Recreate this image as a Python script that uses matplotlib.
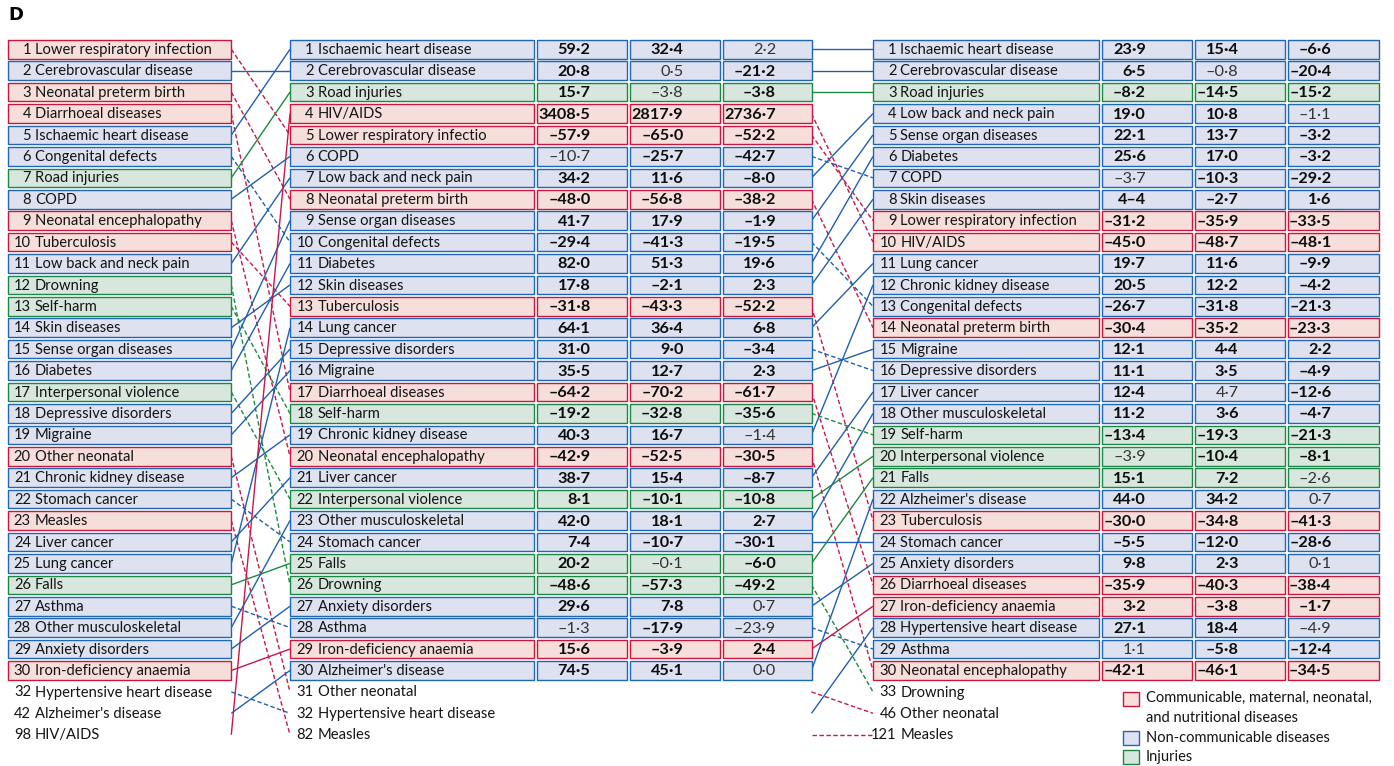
import matplotlib
matplotlib.use("Agg")
import matplotlib.pyplot as plt
from matplotlib.patches import Rectangle
from matplotlib import font_manager

avail = {f.name for f in font_manager.fontManager.ttflist}
if "Liberation Sans Narrow" in avail:
    FONT = ["Liberation Sans Narrow", "DejaVu Sans"]
    FS = 11.4
else:
    FONT = ["Lato", "DejaVu Sans"]
    FS = 10.6
plt.rcParams["font.family"] = FONT

# ---------------- data ----------------
cause_category = {
    "Lower respiratory infection": "C", "Cerebrovascular disease": "N",
    "Neonatal preterm birth": "C", "Diarrhoeal diseases": "C",
    "Ischaemic heart disease": "N", "Congenital defects": "N",
    "Road injuries": "I", "COPD": "N", "Neonatal encephalopathy": "C",
    "Tuberculosis": "C", "Low back and neck pain": "N", "Drowning": "I",
    "Self-harm": "I", "Skin diseases": "N", "Sense organ diseases": "N",
    "Diabetes": "N", "Interpersonal violence": "I", "Depressive disorders": "N",
    "Migraine": "N", "Other neonatal": "C", "Chronic kidney disease": "N",
    "Stomach cancer": "N", "Measles": "C", "Liver cancer": "N",
    "Lung cancer": "N", "Falls": "I", "Asthma": "N",
    "Other musculoskeletal": "N", "Anxiety disorders": "N",
    "Iron-deficiency anaemia": "C", "Hypertensive heart disease": "N",
    "Alzheimer's disease": "N", "HIV/AIDS": "C",
}
alias = {"Lower respiratory infectio": "Lower respiratory infection"}

col1_causes = [
    "Lower respiratory infection", "Cerebrovascular disease", "Neonatal preterm birth",
    "Diarrhoeal diseases", "Ischaemic heart disease", "Congenital defects",
    "Road injuries", "COPD", "Neonatal encephalopathy", "Tuberculosis",
    "Low back and neck pain", "Drowning", "Self-harm", "Skin diseases",
    "Sense organ diseases", "Diabetes", "Interpersonal violence",
    "Depressive disorders", "Migraine", "Other neonatal", "Chronic kidney disease",
    "Stomach cancer", "Measles", "Liver cancer", "Lung cancer", "Falls", "Asthma",
    "Other musculoskeletal", "Anxiety disorders", "Iron-deficiency anaemia",
    "Hypertensive heart disease", "Alzheimer's disease", "HIV/AIDS",
]
col1_ranks = list(range(1, 31)) + [32, 42, 98]

col2_causes = [
    "Ischaemic heart disease", "Cerebrovascular disease", "Road injuries", "HIV/AIDS",
    "Lower respiratory infectio", "COPD", "Low back and neck pain",
    "Neonatal preterm birth", "Sense organ diseases", "Congenital defects",
    "Diabetes", "Skin diseases", "Tuberculosis", "Lung cancer",
    "Depressive disorders", "Migraine", "Diarrhoeal diseases", "Self-harm",
    "Chronic kidney disease", "Neonatal encephalopathy", "Liver cancer",
    "Interpersonal violence", "Other musculoskeletal", "Stomach cancer", "Falls",
    "Drowning", "Anxiety disorders", "Asthma", "Iron-deficiency anaemia",
    "Alzheimer's disease",
    "Other neonatal", "Hypertensive heart disease", "Measles",
]
col2_ranks = list(range(1, 31)) + [31, 32, 82]
col2_v1 = ["59·2", "20·8", "15·7", "3408·5", "–57·9", "–10·7", "34·2", "–48·0", "41·7", "–29·4",
           "82·0", "17·8", "–31·8", "64·1", "31·0", "35·5", "–64·2", "–19·2", "40·3", "–42·9",
           "38·7", "8·1", "42·0", "7·4", "20·2", "–48·6", "29·6", "–1·3", "15·6", "74·5"]
col2_v2 = ["32·4", "0·5", "–3·8", "2817·9", "–65·0", "–25·7", "11·6", "–56·8", "17·9", "–41·3",
           "51·3", "–2·1", "–43·3", "36·4", "9·0", "12·7", "–70·2", "–32·8", "16·7", "–52·5",
           "15·4", "–10·1", "18·1", "–10·7", "–0·1", "–57·3", "7·8", "–17·9", "–3·9", "45·1"]
col2_v3 = ["2·2", "–21·2", "–3·8", "2736·7", "–52·2", "–42·7", "–8·0", "–38·2", "–1·9", "–19·5",
           "19·6", "2·3", "–52·2", "6·8", "–3·4", "2·3", "–61·7", "–35·6", "–1·4", "–30·5",
           "–8·7", "–10·8", "2·7", "–30·1", "–6·0", "–49·2", "0·7", "–23·9", "2·4", "0·0"]
# (rank, value column) pairs printed in regular weight (not significant)
col2_nonsig = [(1, 2), (2, 1), (3, 1), (6, 0), (19, 2), (25, 1), (27, 2), (28, 0), (28, 2), (30, 2)]

col3_causes = [
    "Ischaemic heart disease", "Cerebrovascular disease", "Road injuries",
    "Low back and neck pain", "Sense organ diseases", "Diabetes", "COPD",
    "Skin diseases", "Lower respiratory infection", "HIV/AIDS", "Lung cancer",
    "Chronic kidney disease", "Congenital defects", "Neonatal preterm birth",
    "Migraine", "Depressive disorders", "Liver cancer", "Other musculoskeletal",
    "Self-harm", "Interpersonal violence", "Falls", "Alzheimer's disease",
    "Tuberculosis", "Stomach cancer", "Anxiety disorders", "Diarrhoeal diseases",
    "Iron-deficiency anaemia", "Hypertensive heart disease", "Asthma",
    "Neonatal encephalopathy",
    "Drowning", "Other neonatal", "Measles",
]
col3_ranks = list(range(1, 31)) + [33, 46, 121]
col3_v1 = ["23·9", "6·5", "–8·2", "19·0", "22·1", "25·6", "–3·7", "4–4", "–31·2", "–45·0",
           "19·7", "20·5", "–26·7", "–30·4", "12·1", "11·1", "12·4", "11·2", "–13·4", "–3·9",
           "15·1", "44·0", "–30·0", "–5·5", "9·8", "–35·9", "3·2", "27·1", "1·1", "–42·1"]
col3_v2 = ["15·4", "–0·8", "–14·5", "10·8", "13·7", "17·0", "–10·3", "–2·7", "–35·9", "–48·7",
           "11·6", "12·2", "–31·8", "–35·2", "4·4", "3·5", "4·7", "3·6", "–19·3", "–10·4",
           "7·2", "34·2", "–34·8", "–12·0", "2·3", "–40·3", "–3·8", "18·4", "–5·8", "–46·1"]
col3_v3 = ["–6·6", "–20·4", "–15·2", "–1·1", "–3·2", "–3·2", "–29·2", "1·6", "–33·5", "–48·1",
           "–9·9", "–4·2", "–21·3", "–23·3", "2·2", "–4·9", "–12·6", "–4·7", "–21·3", "–8·1",
           "–2·6", "0·7", "–41·3", "–28·6", "0·1", "–38·4", "–1·7", "–4·9", "–12·4", "–34·5"]
col3_nonsig = [(2, 1), (4, 2), (7, 0), (17, 1), (20, 0), (21, 2), (22, 2), (25, 2), (28, 2), (29, 0)]

legend_labels = ["Communicable, maternal, neonatal,\nand nutritional diseases",
                 "Non-communicable diseases", "Injuries"]

# ---------------- style ----------------
FILL = {"C": "#f6dedb", "N": "#dde1f0", "I": "#d8e7dd"}
EDGE = {"C": "#c8163f", "N": "#1f66b3", "I": "#1c8646"}
LINE = {"C": "#c8174a", "N": "#1f60b0", "I": "#1c8a40"}

ROW0, ROWH, BOXH = 49.3, 21.42, 18.6


def row_y(slot):
    return ROW0 + (slot - 1) * ROWH


def slots(ranks):
    return [r if k < 30 else 31 + (k - 30) for k, r in enumerate(ranks)]


def key(c):
    return alias.get(c, c)


fig = plt.figure(figsize=(13.94, 7.66), dpi=100)
ax = fig.add_axes([0, 0, 1, 1])
ax.set_xlim(0, 1394)
ax.set_ylim(766, 0)
ax.axis("off")

ax.text(8, 15, "D", fontsize=13, fontweight="bold", va="center", ha="left",
        family=["DejaVu Sans"])


def draw_box(x0, x1, slot, cat):
    y = row_y(slot)
    ax.add_patch(Rectangle((x0, y - BOXH / 2), x1 - x0, BOXH, facecolor=FILL[cat],
                           edgecolor=EDGE[cat], linewidth=1.0, zorder=3))


def draw_column(causes, ranks, x0, x1):
    for s, c, r in zip(slots(ranks), causes, ranks):
        y = row_y(s)
        if s <= 30:
            draw_box(x0, x1, s, cause_category[key(c)])
        ax.text(x0 + 23.5, y + 0.6, str(r), fontsize=FS, ha="right", va="center", zorder=4,
                color="#141414")
        ax.text(x0 + 27.5, y + 0.6, c, fontsize=FS, ha="left", va="center", zorder=4,
                color="#141414")


def draw_values(causes, vals, nonsig, boxes, offset):
    for j, (v, (bx0, bx1)) in enumerate(zip(vals, boxes)):
        for i, txt in enumerate(v):
            cat = cause_category[key(causes[i])]
            draw_box(bx0, bx1, i + 1, cat)
            bold = (i + 1, j) not in nonsig
            ax.text(bx0 + offset, row_y(i + 1) + 1.0, txt, fontsize=FS + 1.1, ha="right",
                    va="center", zorder=4, fontweight="bold" if bold else "normal",
                    color="#0d0d0d" if bold else "#333333")


def draw_links(ca, ra, cb, rb, xa, xb):
    sa, sb = slots(ra), slots(rb)
    kb = [key(c) for c in cb]
    for c, r, s in zip(ca, ra, sa):
        j = kb.index(key(c))
        r2, s2 = rb[j], sb[j]
        dashed = (r2 > r) or (s2 > s)
        ax.plot([xa, xb], [row_y(s), row_y(s2)], color=LINE[cause_category[key(c)]],
                lw=1.0, zorder=2, solid_capstyle="butt",
                linestyle=(0, (3.2, 1.8)) if dashed else "-")


C1 = (7.5, 231.3)
C2 = (290, 534)
C2V = [(537, 627), (630, 719.5), (722.5, 811.5)]
C3 = (873, 1099)
C3V = [(1102, 1192), (1194.5, 1284.5), (1287.5, 1379)]

draw_links(col1_causes, col1_ranks, col2_causes, col2_ranks, C1[1], C2[0])
draw_links(col2_causes, col2_ranks, col3_causes, col3_ranks, C2V[2][1], C3[0])

draw_column(col1_causes, col1_ranks, *C1)
draw_column(col2_causes, col2_ranks, *C2)
draw_column(col3_causes, col3_ranks, *C3)
draw_values(col2_causes, [col2_v1, col2_v2, col2_v3], col2_nonsig, C2V, 53.5)
draw_values(col3_causes, [col3_v1, col3_v2, col3_v3], col3_nonsig, C3V, 44)

# legend
leg_y = [699, 738, 757]
for lab, cat, y in zip(legend_labels, ["C", "N", "I"], leg_y):
    ax.add_patch(Rectangle((1123, y - 7), 16, 14, facecolor=FILL[cat], edgecolor=EDGE[cat],
                           linewidth=1.0, zorder=3))
    ax.text(1146, y - 8 if "\n" in lab else y + 0.5, lab, fontsize=FS - 0.1, ha="left",
            va="top" if "\n" in lab else "center", linespacing=1.5, color="#141414")

fig.savefig("out.png", dpi=100)
